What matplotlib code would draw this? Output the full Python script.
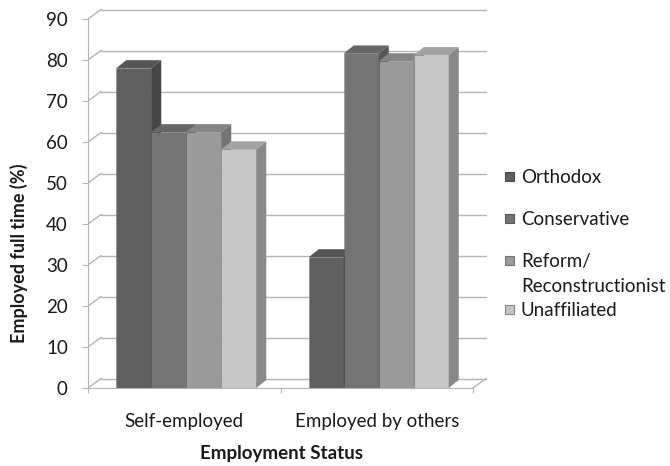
import matplotlib
matplotlib.use("Agg")
import matplotlib.pyplot as plt
from matplotlib.patches import Polygon, Rectangle

W, H = 670, 466

categories = ["Self-employed", "Employed by others"]
series_names = ["Orthodox", "Conservative", "Reform/\nReconstructionist", "Unaffiliated"]
orthodox = [78.0, 31.9]
conservative = [62.4, 81.6]
reform = [62.4, 79.7]
unaffiliated = [58.2, 81.2]
y_ticks = list(range(0, 100, 10))

# front / top / side shade for each series
shades = [
    ("#5f5f5f", "#555555", "#464646"),
    ("#747474", "#666666", "#575757"),
    ("#9a9a9a", "#858585", "#747474"),
    ("#c6c6c6", "#a2a2a2", "#888888"),
]

plt.rcParams["font.family"] = ["Lato", "DejaVu Sans"]
TXT = "#1a1a1a"
GRID = "#b4b4b4"
FS = 13.5

# pixel geometry of the plot box
px_cat = 192.5     # pixels per category
px_pct = 4.1       # pixels per percent
x0, y0 = 88, 388   # front corner of the floor
wall_dx, wall_dy = 13 / px_cat, 9.5 / px_pct
bar_dx, bar_dy = 10 / px_cat, 8 / px_pct
bar_w = 35 / px_cat
bar_shift = 2 / px_cat

xmax = 2 + wall_dx + 0.01
ymax = 90 + wall_dy + 0.5

fig = plt.figure(figsize=(W / 100, H / 100), dpi=100)
ax = fig.add_axes([x0 / W, (H - y0) / H, xmax * px_cat / W, ymax * px_pct / H])
ax.set_xlim(0, xmax)
ax.set_ylim(0, ymax)
ax.patch.set_alpha(0)

# back wall gridlines and the slanted side-wall lines
for v in y_ticks:
    ax.plot([wall_dx, 2 + wall_dx], [v + wall_dy, v + wall_dy], color=GRID, lw=1, zorder=1)
    ax.plot([0, wall_dx], [v, v + wall_dy], color=GRID, lw=1, zorder=1)
ax.plot([2, 2 + wall_dx], [0, wall_dy], color=GRID, lw=1, zorder=1)

# 3-D looking columns: front face, top and right side
all_series = [orthodox, conservative, reform, unaffiliated]
for i in range(len(categories)):
    for j, vals in enumerate(all_series):
        v = vals[i]
        front, top, side = shades[j]
        xl = i + 0.5 - 2 * bar_w + j * bar_w + bar_shift
        z = 3 + j
        ax.bar(xl, v, width=bar_w, align="edge", color=front,
               edgecolor="#00000022", linewidth=0.6, zorder=z)
        ax.add_patch(Polygon([(xl, v), (xl + bar_w, v),
                              (xl + bar_w + bar_dx, v + bar_dy), (xl + bar_dx, v + bar_dy)],
                             closed=True, facecolor=top, edgecolor="none", zorder=z))
        ax.add_patch(Polygon([(xl + bar_w, 0), (xl + bar_w + bar_dx, bar_dy),
                              (xl + bar_w + bar_dx, v + bar_dy), (xl + bar_w, v)],
                             closed=True, facecolor=side, edgecolor="none", zorder=z))

for s in ("top", "right"):
    ax.spines[s].set_visible(False)
ax.spines["left"].set_bounds(0, 90)
ax.spines["bottom"].set_bounds(0, 2)
for s in ("left", "bottom"):
    ax.spines[s].set_color(GRID)
    ax.spines[s].set_zorder(2)

ax.set_yticks(y_ticks)
ax.tick_params(axis="y", length=4.5, color=GRID, labelsize=FS, labelcolor=TXT, pad=10)
ax.set_xticks([0, 1, 2])
ax.set_xticklabels([])
ax.set_xticks([0.5, 1.5], minor=True)
ax.set_xticklabels(categories, minor=True)
ax.tick_params(axis="x", which="major", length=3.5, color=GRID)
ax.tick_params(axis="x", which="minor", length=0, labelsize=FS, labelcolor=TXT, pad=18)

fig.text(281 / W, 1 - 453 / H, "Employment Status", ha="center", va="center",
         fontsize=FS, fontweight="bold", color=TXT)
fig.text(19 / W, 1 - 253 / H, "Employed full time (%)", ha="center", va="center",
         rotation=90, fontsize=13, fontweight="bold", color=TXT)

# legend on the right
legend_y = [177, 219, 261, 310]
for name, (front, top, side), y in zip(series_names, shades, legend_y):
    fig.add_artist(Rectangle((505 / W, 1 - (y + 4) / H), 9 / W, 9 / H,
                             transform=fig.transFigure, facecolor=front,
                             edgecolor=side, linewidth=0.8))
    fig.text(521 / W, 1 - (y - 8) / H, name, ha="left", va="top",
             fontsize=FS, color=TXT, linespacing=1.6)

fig.savefig("out.png", dpi=100)
